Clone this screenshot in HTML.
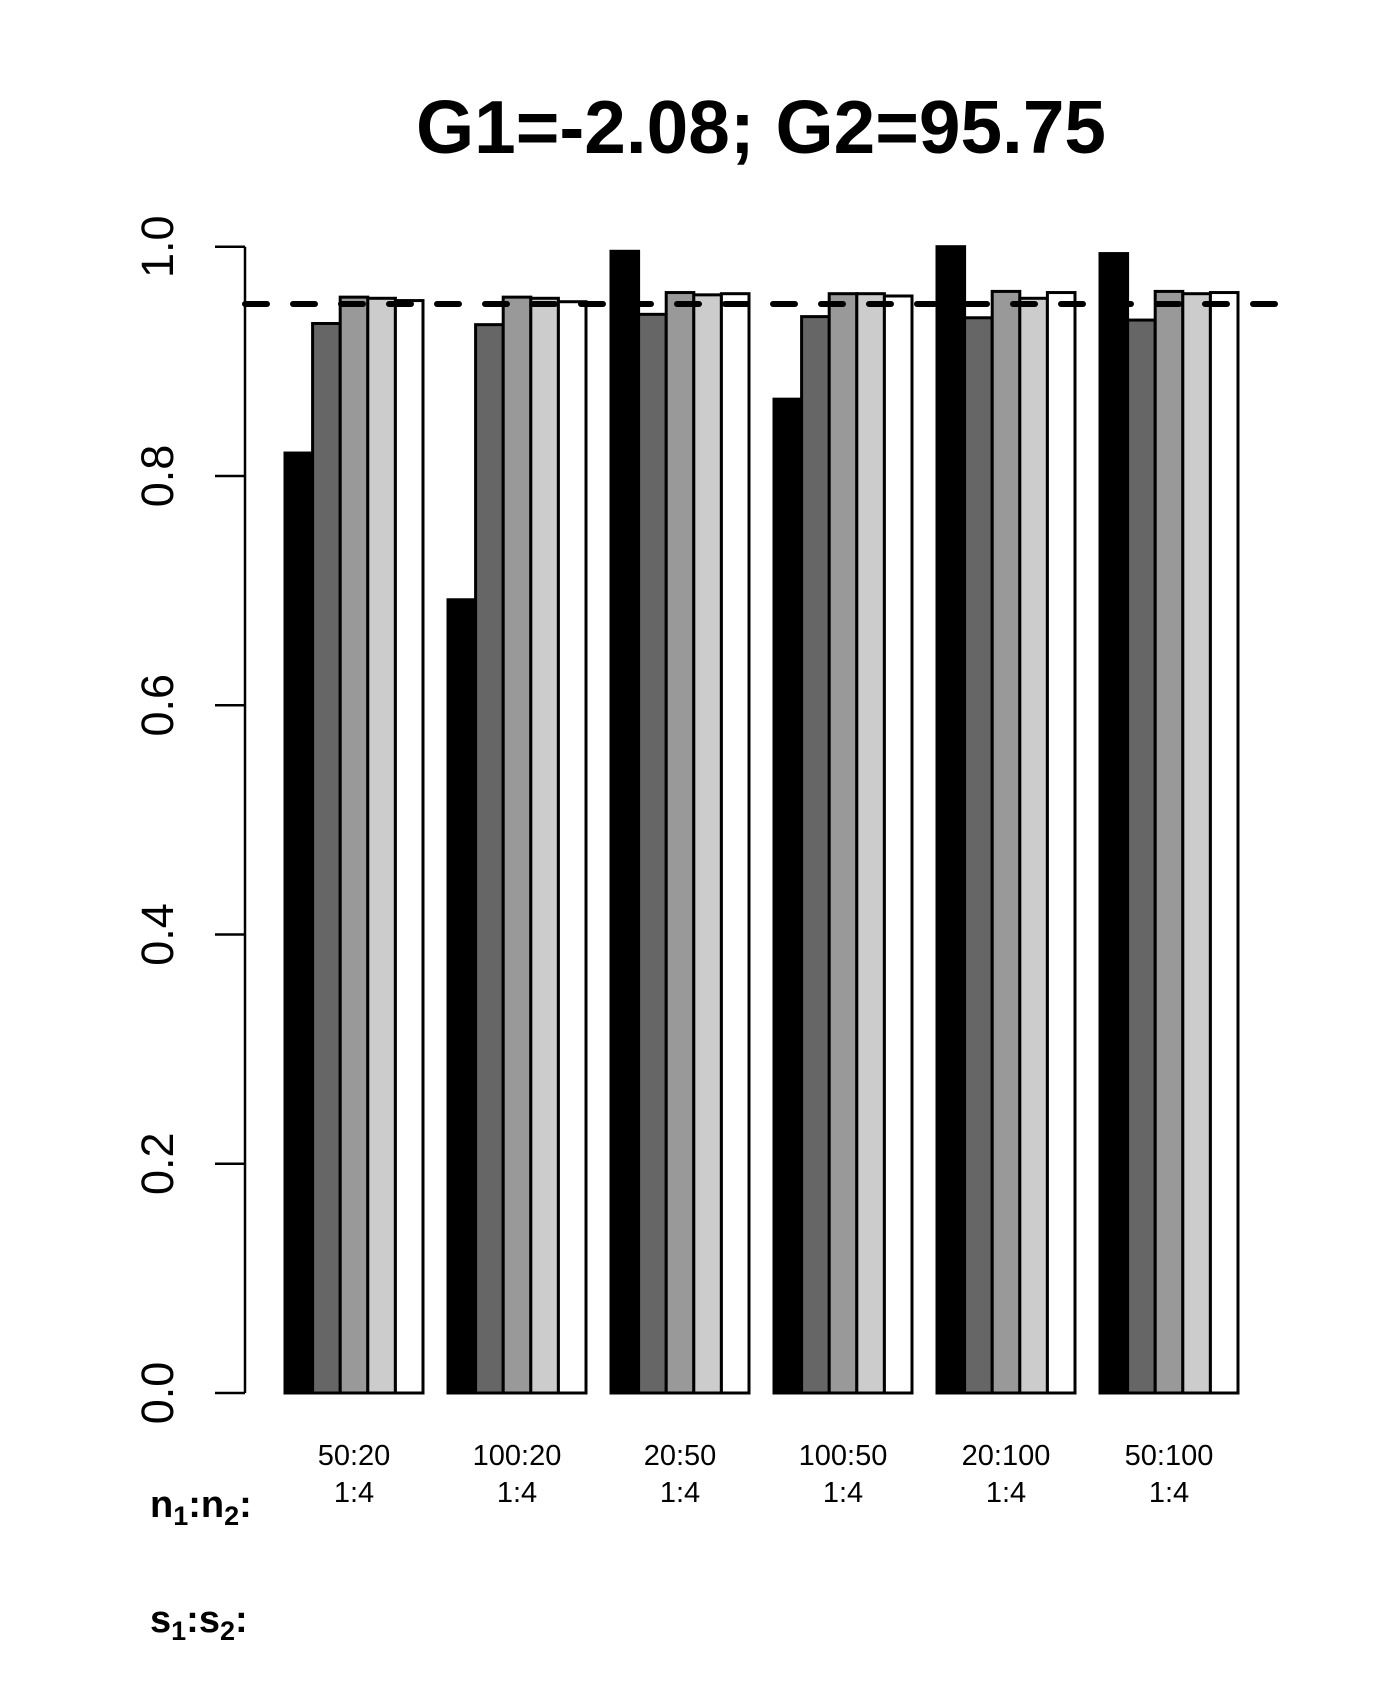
<!DOCTYPE html>
<html><head><meta charset="utf-8"><style>
html,body{margin:0;padding:0;background:#fff;}
svg{display:block;}
text{font-family:"Liberation Sans",Arial,sans-serif;}
</style></head><body>
<svg id="chart" width="1400" height="1700" viewBox="0 0 1400 1700">
<text x="761" y="153" font-size="75" font-weight="bold" text-anchor="middle" textLength="690" lengthAdjust="spacingAndGlyphs">G1=-2.08; G2=95.75</text>
<g id="yaxis"></g>
<g id="bars"></g>
<g id="xlabels"></g>
<text x="150" y="1517" font-size="38" font-weight="bold">n<tspan font-size="27" dy="8">1</tspan><tspan dy="-8">:n</tspan><tspan font-size="27" dy="8">2</tspan><tspan dy="-8">:</tspan></text>
<text x="150" y="1632" font-size="38" font-weight="bold">s<tspan font-size="27" dy="8">1</tspan><tspan dy="-8">:s</tspan><tspan font-size="27" dy="8">2</tspan><tspan dy="-8">:</tspan></text>
</svg>
<script>
const categories = ["50:20","100:20","20:50","100:50","20:100","50:100"];
const ratios = ["1:4","1:4","1:4","1:4","1:4","1:4"];
const series1 = [0.820,0.692,0.996,0.867,1.000,0.994];
const series2 = [0.933,0.932,0.941,0.939,0.938,0.936];
const series3 = [0.956,0.956,0.960,0.959,0.961,0.961];
const series4 = [0.955,0.955,0.958,0.959,0.955,0.959];
const series5 = [0.953,0.952,0.959,0.957,0.960,0.960];
const yTicks = [0,0.2,0.4,0.6,0.8,1.0];
const yTickLabels = ["0.0","0.2","0.4","0.6","0.8","1.0"];
const refLine = 0.95;

const NS = "http://www.w3.org/2000/svg";
const svg = document.getElementById('chart');
const y0 = 1393, yScale = 1146.3;
const y = v => y0 - v * yScale;
const groupStart = 285, groupStep = 163, barW = 27.6;
const xBar = (g, s) => groupStart + g * groupStep + s * barW;
const fills = ["#000000","#666666","#999999","#cccccc","#ffffff"];
const allSeries = [series1, series2, series3, series4, series5];
function mk(tag, attrs, parent){const e=document.createElementNS(NS,tag);for(const k in attrs)e.setAttribute(k,attrs[k]);parent.appendChild(e);return e;}

const ya = document.getElementById('yaxis');
const axLine = mk('line',{x1:245,x2:245,y1:y(1),y2:y(0),stroke:'#000','stroke-width':2.5},ya);


yTicks.forEach((t,i)=>{
  const tk = mk('line',{x1:215,x2:245,y1:y(t),y2:y(t),stroke:'#000','stroke-width':2.5},ya);
  
  
  const tx = mk('text',{x:0,y:0,'font-size':45,'text-anchor':'middle',transform:`translate(173,${y(t)}) rotate(-90)`},ya);
  tx.textContent = yTickLabels[i];
  
  
});

const bg = document.getElementById('bars');
categories.forEach((c,g)=>{
  allSeries.forEach((s,si)=>{
    const v = s[g];
    const r = mk('rect',{x:xBar(g,si),y:y(v),width:barW,height:y(0)-y(v),fill:fills[si],stroke:'#000','stroke-width':3},bg);
    
    
  });
});
const dl = mk('line',{x1:245,x2:1275,y1:y(refLine),y2:y(refLine),stroke:'#000','stroke-width':6,'stroke-dasharray':'22 26','stroke-linecap':'round'},bg);



const xl = document.getElementById('xlabels');
categories.forEach((c,g)=>{
  const cx = xBar(g,2.5);
  const t1 = mk('text',{x:cx,y:1465,'font-size':29,'text-anchor':'middle'},xl);
  t1.textContent = c;
  
  
  const t2 = mk('text',{x:cx,y:1502,'font-size':29,'text-anchor':'middle'},xl);
  t2.textContent = ratios[g];
  
  
});
</script>
</body></html>
